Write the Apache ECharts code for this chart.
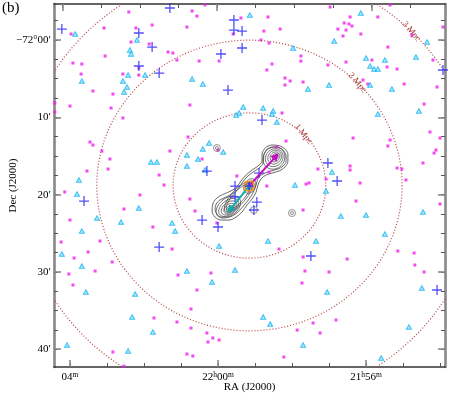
<!DOCTYPE html>
<html><head><meta charset="utf-8">
<script src="https://cdn.jsdelivr.net/npm/echarts@6/dist/echarts.min.js"></script>
<style>html,body{margin:0;padding:0;background:#fff}#c{width:450px;height:398px}</style>
</head><body><div id="c"></div>
<script>
const FONT = '"Liberation Serif","Times New Roman",serif';

// Axis ranges: x = RA offset from 22h00m in minutes of time (east = left), y = arcmin south of -72°00'
const raRange = [-6.135, 4.432];
const raRangeTop = [-5.907, 4.223];
const decRange = [-4.66, 42.30];

const raMinorTicks = [-6,-5,-4,-3,-2,-1,0,1,2,3,4];
const raTopMinorTicks = [-5,-4,-3,-2,-1,0,1,2,3,4];
const raMajorTicks = [-4,0,4];
const raTickLabels = ['21h56m','22h00m','04m'];
const decMinorTicks = [-2.5,0,2.5,5,7.5,10,12.5,15,17.5,20,22.5,25,27.5,30,32.5,35,37.5,40];
const decMajorTicks = [0,10,20,30,40];
const decTickLabels = ['−72°00′','10′','20′','30′','40′'];

// Cluster centre and radii
const clusterCenter = [-0.85, 18.82];
const mpcRadii = [1,2,3];
const mpcLabels = ['1 Mpc','2 Mpc','3 Mpc'];
const arcminPerMpc = 9.4;
const centerDecDeg = 72.314;

const magentaGalaxies = [
[3.97,-0.78],[3.08,-1.55],[2.41,-3.62],[2.22,-1.55],[2.35,0.26],[1.86,0.52],[3.92,2.98],[3.68,3.10],[3.05,2.07],[2.14,3.62],
[3.70,4.40],[2.57,4.40],[2.14,4.53],[3.38,6.60],[2.84,6.99],[4.41,8.15],[4.41,9.31],[4.00,8.54],[2.89,8.80],[2.57,10.09],
[0.35,-4.55],[0.70,-3.75],[0.57,-3.10],[1.78,-1.94],[0.84,-1.68],[-0.62,-2.85],[-1.35,-2.98],[-0.41,-0.78],[-1.24,-1.16],[-1.68,-1.42],
[-1.16,0.00],[-1.38,0.39],[1.35,1.55],[1.22,1.68],[1.11,2.59],[0.51,2.72],[-0.03,2.72],[-1.46,3.10],[-1.32,3.88],[-1.81,4.92],
[-1.95,5.30],[-1.81,5.82],[0.76,8.41],[-1.73,9.44],[-3.03,-4.27],[-4.65,-4.53],[-3.57,-2.98],[-4.32,-2.98],[-3.41,-2.20],[-3.54,-2.07],
[-3.62,-1.81],[-3.24,-1.42],[-3.46,-1.29],[-3.38,-0.52],[-3.86,-0.78],[-6.08,-1.68],[-5.24,-0.65],[-4.59,0.91],[-4.16,2.59],[-5.81,2.59],
[-3.46,2.85],[-2.97,3.23],[-4.57,3.49],[-4.84,3.75],[-2.24,2.07],[-2.24,2.72],[-3.92,5.17],[-4.05,5.69],[-2.30,5.43],[-5.03,5.69],
[-5.92,6.08],[-5.57,8.28],[3.46,13.20],[3.38,13.58],[3.14,14.36],[2.92,15.39],[3.54,16.95],[2.97,16.69],[4.14,19.66],[2.11,20.05],
[2.54,21.86],[4.00,23.29],[3.19,26.00],[4.24,26.13],[3.51,27.43],[3.89,28.20],[0.81,12.55],[1.30,14.36],[0.00,14.23],[-1.84,13.07],
[-1.59,13.84],[0.43,15.39],[1.59,17.46],[-0.51,17.59],[1.46,18.76],[-1.32,18.89],[0.76,20.57],[0.62,22.12],[1.76,24.19],[1.24,27.04],
[-1.65,27.04],[-1.38,17.08],[0.03,23.67],[-3.65,12.68],[-4.65,12.94],[-4.59,13.71],[-5.73,11.90],[-6.00,12.68],[-5.89,14.23],[-5.84,14.62],
[-5.54,15.91],[-3.57,16.30],[-3.57,16.82],[-2.70,16.69],[-4.84,16.56],[-4.97,16.69],[-2.92,17.98],[-3.84,18.50],[-5.08,18.11],[-2.38,18.63],
[-2.46,18.50],[-3.73,20.83],[-6.00,21.22],[-2.30,21.99],[-4.86,27.30],[-5.30,27.56],[-2.30,28.07],[-3.49,28.33],[2.86,28.72],[4.03,30.27],
[3.32,29.88],[3.92,31.69],[2.84,40.36],[2.54,42.2],[1.08,30.40],[0.19,30.14],[0.57,32.34],[1.73,35.96],[1.11,36.48],[0.73,34.80],
[0.73,37.26],[0.30,37.90],[0.27,39.07],[0.14,38.55],[-0.03,38.81],[-2.14,37.52],[0.84,40.62],[0.68,40.88],[-1.78,41.01],[-5.32,29.11],
[-2.35,29.88],[-3.00,30.01],[-5.57,30.01],[-2.27,31.44],[-2.57,36.61],[-3.19,36.22],[-2.76,37.90]
];

const cyanGalaxies = [
[3.86,-0.78],[2.19,0.00],[2.38,1.29],[2.35,1.81],[3.68,5.30],[2.43,4.53],[1.97,4.53],[2.57,5.30],[2.46,6.08],[2.54,6.73],
[-0.86,-3.23],[-2.03,1.03],[0.70,5.05],[0.41,5.69],[-0.68,8.67],[-1.22,8.80],[-0.57,9.44],[-0.49,9.70],[-1.49,9.18],[-1.46,9.57],
[-1.59,10.61],[-3.86,-3.49],[-3.14,0.13],[-5.65,0.26],[-4.00,2.33],[-4.51,2.59],[-5.35,2.20],[-4.11,3.36],[-4.22,3.75],[-4.32,3.75],
[-4.11,5.82],[-2.43,6.34],[-3.00,5.82],[-4.70,6.34],[-5.43,9.18],[-4.32,9.57],[3.76,18.11],[3.81,19.92],[2.14,21.73],[3.27,23.03],
[2.62,23.54],[3.68,24.71],[4.22,27.68],[0.24,13.32],[0.41,14.10],[-0.14,14.49],[1.81,15.78],[1.65,15.78],[0.84,14.88],[0.54,15.39],
[0.84,16.30],[0.35,16.82],[-2.08,18.76],[1.24,23.67],[1.16,24.71],[-1.35,26.00],[-0.03,26.65],[-3.08,17.08],[-2.92,19.53],[-5.54,22.25],
[-3.32,22.77],[-4.00,22.64],[-4.51,25.10],[-2.65,26.00],[3.68,29.24],[3.57,32.60],[2.24,32.86],[2.32,35.83],[4.08,39.46],[2.43,40.23],
[0.84,29.88],[0.16,31.31],[-0.46,29.75],[1.76,37.77],[-1.22,35.83],[-1.41,36.74],[-2.95,32.60],[-5.51,32.08],[-2.30,39.46],[-5.16,37.13],
[-4.41,41.14]
];

const blueSources = [
[4.22,-1.42],[2.14,-0.91],[2.14,3.36],[1.30,-4.14],[-0.43,-2.59],[-0.43,-1.29],[-0.65,-1.16],[1.78,0.91],[-0.08,1.81],[-0.65,1.03],
[1.59,4.27],[-0.27,6.47],[-1.19,10.35],[-6.08,3.88],[3.62,20.83],[0.30,16.95],[-1.11,17.21],[-0.46,18.89],[-0.46,20.31],[-1.05,20.96],
[-0.97,21.99],[0.43,23.29],[0.00,24.19],[1.59,26.78],[-2.97,15.91],[-3.22,18.24],[-2.51,27.94],[-5.92,32.34],[-0.84,18.89]
];

const compactRadioSources = [[0.03,13.97],[-2.00,22.38],[-0.97,21.99]];

const radioCore = [-0.84,18.89];
const neLobeTip = [-1.57,15.01];
const swLobeTip = [-0.32,21.99];

const contourLevel1 = [[-1.30,13.84],[-1.46,13.58],[-1.68,13.71],[-1.81,14.10],[-1.89,14.75],[-1.89,15.65],[-1.81,16.43],[-1.65,16.95],[-1.46,17.21],[-1.30,17.46],[-1.16,17.98],[-1.08,18.76],[-1.03,19.66],[-0.92,20.57],[-0.78,21.35],[-0.65,22.25],[-0.49,22.90],[-0.30,23.29],[-0.08,23.29],[0.08,22.90],[0.16,22.12],[0.14,21.22],[0.03,20.44],[-0.16,19.92],[-0.35,19.53],[-0.51,19.02],[-0.62,18.24],[-0.76,17.46],[-0.92,16.82],[-1.08,16.30],[-1.19,15.65],[-1.19,14.75]];
const contourLevel2 = [[-1.32,14.10],[-1.49,13.84],[-1.68,13.97],[-1.78,14.36],[-1.84,15.01],[-1.84,15.65],[-1.76,16.30],[-1.62,16.69],[-1.43,16.95],[-1.27,17.21],[-1.11,17.72],[-1.03,18.63],[-0.97,19.53],[-0.86,20.44],[-0.73,21.22],[-0.59,21.99],[-0.43,22.64],[-0.27,22.90],[-0.08,22.90],[0.03,22.51],[0.08,21.86],[0.05,21.22],[-0.05,20.70],[-0.22,20.31],[-0.41,19.79],[-0.54,19.28],[-0.65,18.50],[-0.78,17.72],[-0.95,17.08],[-1.11,16.56],[-1.22,15.91],[-1.24,14.88]];
// inner contour levels: [ra, dec, semi-major (arcmin), semi-minor (arcmin), position angle deg]
const lobeContours = [
[-1.51,15.27,1.50,1.36,48],[-1.52,15.22,1.22,1.08,48],[-1.53,15.16,0.95,0.82,48],[-1.54,15.12,0.68,0.58,48],[-1.55,15.10,0.42,0.36,48],[-1.56,15.08,0.20,0.17,48],
[-0.55,20.30,2.50,0.92,48],[-0.55,20.30,2.20,0.70,48],
[-0.86,18.89,1.00,0.72,60],[-0.86,18.89,0.70,0.50,60],[-0.86,18.89,0.42,0.30,60],
[-0.28,21.60,1.80,1.15,38],[-0.29,21.66,1.48,0.92,38],[-0.30,21.72,1.15,0.72,38],[-0.31,21.78,0.82,0.52,38],[-0.32,21.82,0.50,0.33,38],[-0.32,21.85,0.24,0.17,38]
];

function richify(s){ return s.replace(/(\d+)/g,'{n|$1}').replace(/([hm])/g,'{s|$1}'); }
const raMinPerArcmin = 1/(15*Math.cos(centerDecDeg*Math.PI/180));

const GRID = {left:54, right:5, top:4, bottom:31, containLabel:false, outerBoundsMode:'none'};
const crossPath = 'path://M4.35,0H5.65V4.35H10V5.65H5.65V10H4.35V5.65H0V4.35H4.35Z';

function xAxisDef(gi, pos, range, opts){
  return Object.assign({type:'value', gridIndex:gi, position:pos, min:range[0], max:range[1], inverse:true,
    splitLine:{show:false}, axisLabel:{show:false}}, opts);
}
function yAxisDef(gi, pos, opts){
  return Object.assign({type:'value', gridIndex:gi, position:pos, min:decRange[0], max:decRange[1], inverse:true,
    splitLine:{show:false}, axisLabel:{show:false}}, opts);
}
const darkLine = {show:true, onZero:false, lineStyle:{color:'#333', width:1.6}};
const grayLine = {show:true, onZero:false, lineStyle:{color:'#888', width:2.6}};
const noLine = {show:false, onZero:false};
const minorTick = (vals)=>({show:true, inside:true, length:4, customValues:vals, lineStyle:{color:'#555', width:1}});
const majorTick = (vals)=>({show:true, inside:true, length:7, customValues:vals, lineStyle:{color:'#888', width:1.6}});

const chart = echarts.init(document.getElementById('c'), null, {renderer:'canvas'});
chart.setOption({
  animation:false,
  backgroundColor:'#fff',
  title:{text:'(b)', left:2, top:1, padding:0, textStyle:{fontFamily:FONT, fontSize:15, fontWeight:'normal', color:'#000'}},
  grid:[Object.assign({}, GRID), Object.assign({}, GRID)],
  xAxis:[
    xAxisDef(0,'bottom',raRange,{axisLine:darkLine, axisTick:minorTick(raMinorTicks)}),
    xAxisDef(0,'top',raRangeTop,{axisLine:darkLine, axisTick:minorTick(raTopMinorTicks)}),
    xAxisDef(1,'bottom',raRange,{axisLine:noLine, axisTick:majorTick(raMajorTicks),
      axisLabel:{show:true, margin:4, customValues:raMajorTicks,
        formatter:(v)=>{const i=raMajorTicks.indexOf(v); return i<0?'':richify(raTickLabels[i]);},
        rich:{n:{fontFamily:FONT, fontSize:11, color:'#000', lineHeight:12}, s:{fontFamily:FONT, fontSize:7.5, color:'#000', verticalAlign:'top', lineHeight:8}}},
      name:'RA (J2000)', nameLocation:'middle', nameGap:15, nameMoveOverlap:false,
      nameTextStyle:{fontFamily:FONT, fontSize:11, color:'#000'}}),
    xAxisDef(1,'top',raRangeTop,{axisLine:noLine, axisTick:majorTick(raMajorTicks)})
  ],
  yAxis:[
    yAxisDef(0,'left',{axisLine:grayLine, axisTick:minorTick(decMinorTicks)}),
    yAxisDef(0,'right',{axisLine:grayLine, axisTick:minorTick(decMinorTicks)}),
    yAxisDef(1,'left',{axisLine:noLine, axisTick:majorTick(decMajorTicks),
      axisLabel:{show:true, margin:3, customValues:decMajorTicks, fontFamily:FONT, fontSize:11, color:'#000',
        formatter:(v)=>{const i=decMajorTicks.indexOf(v); return i<0?'':decTickLabels[i];}},
      name:'Dec (J2000)', nameLocation:'middle', nameGap:35, nameRotate:90, nameMoveOverlap:false,
      nameTextStyle:{fontFamily:FONT, fontSize:11, color:'#000'}}),
    yAxisDef(1,'right',{axisLine:noLine, axisTick:majorTick(decMajorTicks)})
  ],
  series:[
    {type:'custom', name:'Mpc circles', xAxisIndex:0, yAxisIndex:0, silent:true, z:1,
      data: mpcRadii.map(m=>[clusterCenter[0], clusterCenter[1], m*arcminPerMpc]),
      renderItem:(params, api)=>{
        const c = api.coord([api.value(0), api.value(1)]);
        const r = api.value(2);
        const ry = Math.abs(api.size([0, r])[1]);
        const rx = Math.abs(api.size([r*raMinPerArcmin, 0])[0]);
        const pts=[];
        for(let k=0;k<=720;k++){const t=k*Math.PI/360; pts.push([c[0]+rx*Math.cos(t), c[1]+ry*Math.sin(t)]);}
        const a=-Math.PI/4;
        const lp=[c[0]+rx*Math.cos(a), c[1]+ry*Math.sin(a)];
        const cs=params.coordSys;
        return {type:'group', clipPath:{type:'rect', shape:{x:cs.x, y:cs.y, width:cs.width, height:cs.height}},
          children:[
            {type:'polyline', shape:{points:pts}, style:{stroke:'#b5403f', lineWidth:1.2, lineDash:[1,2], fill:null}},
            {type:'text', x:lp[0], y:lp[1], rotation:-50*Math.PI/180,
              style:{text:mpcLabels[params.dataIndex], fill:'#a83a3a', font:'9px '+FONT, align:'center', verticalAlign:'middle'}}
          ]};
      }},
    {type:'line', name:'contour1', xAxisIndex:0, yAxisIndex:0, silent:true, symbol:'none', smooth:0.35, z:2,
      data: contourLevel1.concat([contourLevel1[0]]), lineStyle:{color:'#444', width:0.8}},
    {type:'line', name:'contour2', xAxisIndex:0, yAxisIndex:0, silent:true, symbol:'none', smooth:0.35, z:2,
      data: contourLevel2.concat([contourLevel2[0]]), lineStyle:{color:'#444', width:0.8}},
    {type:'custom', name:'lobe contours', xAxisIndex:0, yAxisIndex:0, silent:true, z:2,
      data: lobeContours,
      renderItem:(params, api)=>{
        const c = api.coord([api.value(0), api.value(1)]);
        const pxPer = Math.abs(api.size([0,1])[1]);
        const A = api.value(2)*pxPer, B = api.value(3)*pxPer, th = api.value(4)*Math.PI/180;
        const ux=Math.cos(th), uy=-Math.sin(th), vx=Math.sin(th), vy=Math.cos(th);
        const pts=[];
        for(let k=0;k<72;k++){const t=k*Math.PI/36; const p=A*Math.cos(t), q=B*Math.sin(t);
          pts.push([c[0]+p*ux+q*vx, c[1]+p*uy+q*vy]);}
        return {type:'polygon', shape:{points:pts}, style:{stroke:'#444', lineWidth:0.8, fill:null}};
      }},
    {type:'scatter', name:'magenta', xAxisIndex:0, yAxisIndex:0, symbol:'rect', symbolSize:3, z:3,
      data: magentaGalaxies, itemStyle:{color:'#f01af0'}},
    {type:'scatter', name:'cyan', xAxisIndex:0, yAxisIndex:0, symbol:'triangle', symbolSize:[5,4.5], z:3,
      data: cyanGalaxies, itemStyle:{color:'#9fe4ff', borderColor:'#12b4f0', borderWidth:1}},
    {type:'scatter', name:'compact', xAxisIndex:0, yAxisIndex:0, symbol:'circle', symbolSize:7, z:4,
      data: compactRadioSources, itemStyle:{color:'rgba(0,0,0,0)', borderColor:'#555', borderWidth:0.8}},
    {type:'scatter', name:'compact2', xAxisIndex:0, yAxisIndex:0, symbol:'circle', symbolSize:3, z:4,
      data: compactRadioSources.slice(0,2), itemStyle:{color:'rgba(0,0,0,0)', borderColor:'#555', borderWidth:0.8}},
    {type:'scatter', name:'blue', xAxisIndex:0, yAxisIndex:0, symbol:crossPath, symbolSize:10, z:5,
      data: blueSources, itemStyle:{color:'#2626f8'}},
    {type:'lines', name:'NE arrow', coordinateSystem:'cartesian2d', xAxisIndex:0, yAxisIndex:0, z:6,
      symbol:['none','triangle'], symbolSize:8, color:'#c010c0',
      lineStyle:{color:'#c010c0', width:2, opacity:1}, data:[{coords:[radioCore, neLobeTip]}]},
    {type:'lines', name:'SW arrow', coordinateSystem:'cartesian2d', xAxisIndex:0, yAxisIndex:0, z:6,
      symbol:['none','triangle'], symbolSize:8, color:'#12a9a9',
      lineStyle:{color:'#12a9a9', width:2, opacity:1}, data:[{coords:[radioCore, swLobeTip]}]},
    {type:'scatter', name:'core', xAxisIndex:0, yAxisIndex:0, symbol:'roundRect', symbolSize:9, z:7,
      data:[radioCore], itemStyle:{color:'rgba(0,0,0,0)', borderColor:'#ff9a00', borderWidth:1.6}},
    {type:'scatter', name:'core cross', xAxisIndex:0, yAxisIndex:0, symbol:crossPath, symbolSize:8, z:8,
      data:[radioCore], itemStyle:{color:'#2626f8'}}
  ]
});
</script></body></html>
